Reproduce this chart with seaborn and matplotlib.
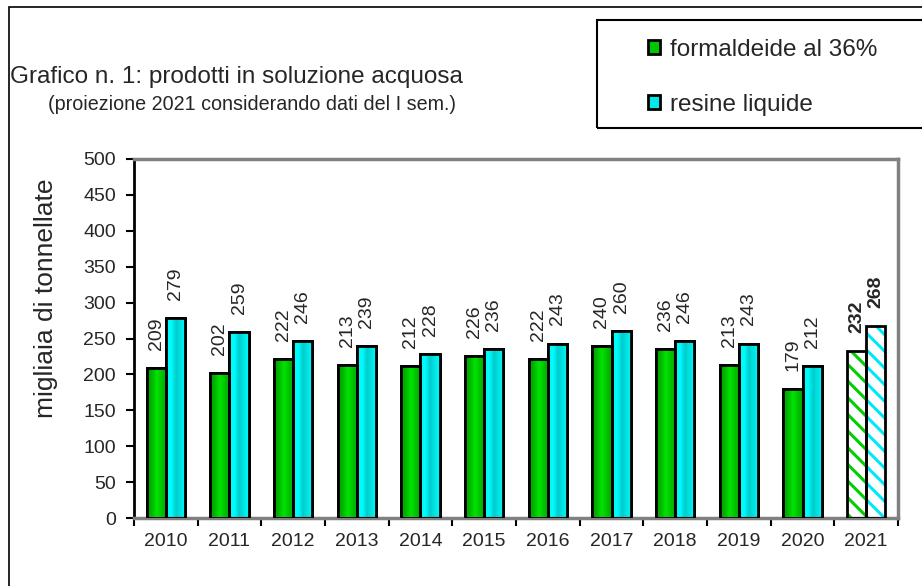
import numpy as np
import pandas as pd
import matplotlib
matplotlib.use("Agg")
import matplotlib.pyplot as plt
import seaborn as sns
from matplotlib.patches import Rectangle, Patch
from matplotlib.colors import LinearSegmentedColormap

# data
anni = ["2010", "2011", "2012", "2013", "2014", "2015",
        "2016", "2017", "2018", "2019", "2020", "2021"]
formaldeide = [209, 202, 222, 213, 212, 226, 222, 240, 236, 213, 179, 232]
resine = [279, 259, 246, 239, 228, 236, 243, 260, 246, 243, 212, 268]
serie = ["formaldeide al 36%", "resine liquide"]

sns.set_style("white")
plt.rcParams["font.family"] = ["Liberation Sans", "DejaVu Sans"]
plt.rcParams["hatch.linewidth"] = 2.2

df = pd.DataFrame({
    "anno": anni * 2,
    "valore": formaldeide + resine,
    "prodotto": [serie[0]] * len(anni) + [serie[1]] * len(anni),
})

colori = {serie[0]: "#00c800", serie[1]: "#00e8e8"}
tratteggio = {serie[0]: "#00d000", serie[1]: "#00e8f8"}
sfumature = {
    serie[0]: ["#009c00", "#00b800", "#00e400", "#00c400", "#00a400"],
    serie[1]: ["#00f4f4", "#00ffff", "#00cccc", "#00e4e4", "#00fafa"],
}

fig = plt.figure(figsize=(9.22, 5.86), dpi=100)
ax = fig.add_axes([0.1453, 0.116, 0.8287, 0.6127])

sns.barplot(data=df, x="anno", y="valore", hue="prodotto", palette=colori,
            width=0.6, edgecolor="black", linewidth=2, legend=False, ax=ax)

for cont, nome in zip(ax.containers, serie):
    cmap = LinearSegmentedColormap.from_list(nome, sfumature[nome])
    grad = np.linspace(0, 1, 64).reshape(1, -1)
    for i, p in enumerate(cont.patches):
        x0, w, h = p.get_x(), p.get_width(), p.get_height()
        if anni[i] == "2021":
            # projection: white hatched bar
            p.set_facecolor("white")
            p.set_edgecolor(tratteggio[nome])
            p.set_hatch("\\\\")
            p.set_linewidth(0)
        else:
            im = ax.imshow(grad, cmap=cmap, aspect="auto",
                           extent=[x0, x0 + w, 0, h], zorder=2.5)
            im.set_clip_path(p)
        ax.add_patch(Rectangle((x0, 0), w, h, fill=False, ec="black",
                               lw=2, zorder=3))
        ax.annotate(f"{h:.0f}", xy=(x0 + w / 2, h), xytext=(0, 13),
                    textcoords="offset points", rotation=90,
                    ha="center", va="bottom", fontsize=14,
                    fontweight="bold" if anni[i] == "2021" else "normal")

ax.set_xlim(-0.5, len(anni) - 0.5)
ax.set_ylim(0, 500)
ax.set_yticks(np.arange(0, 501, 50))
ax.set_xticks(range(len(anni)))
ax.set_xticklabels(anni)
ax.set_xticks(np.arange(-0.5, len(anni), 1), minor=True)
ax.tick_params(axis="x", which="major", length=0, pad=11, labelsize=14)
ax.tick_params(axis="x", which="minor", length=6, width=1.5,
               direction="out", color="black", bottom=True)
ax.tick_params(axis="y", length=6, width=1.5, direction="out",
               color="black", pad=7, labelsize=14, left=True)

ax.set_xlabel("")
ax.set_ylabel("migliaia di tonnellate", fontsize=19)
ax.yaxis.set_label_coords(-0.1, 0.613)

for lato in ["top", "right", "bottom"]:
    ax.spines[lato].set_color("#808080")
    ax.spines[lato].set_linewidth(2.5)
ax.spines["left"].set_color("black")
ax.spines["left"].set_linewidth(2)

fig.text(10 / 922, 1 - 77 / 586, "Grafico n. 1: prodotti in soluzione acquosa",
         fontsize=17.5, va="center", ha="left")
fig.text(48 / 922, 1 - 104 / 586,
         "(proiezione 2021 considerando dati del I sem.)",
         fontsize=14.2, va="center", ha="left")

# outer frame and legend box
fig.patches.append(Rectangle((9 / 922, -0.1), 1.2, 1.1 - 7 / 586,
                             transform=fig.transFigure, fill=False,
                             ec="black", lw=1.2))
fig.patches.append(Rectangle((597 / 922, 1 - 128 / 586), 0.5, 108 / 586,
                             transform=fig.transFigure, fill=False,
                             ec="black", lw=1.5))

maniglie = [Patch(facecolor=colori[s], edgecolor="black", linewidth=2)
            for s in serie]
fig.legend(maniglie, serie, loc="upper left",
           bbox_to_anchor=(648 / 922, 1 - 39 / 586), frameon=False,
           fontsize=17.5, handlelength=0.5, handleheight=0.5,
           handletextpad=0.4, labelspacing=1.35, borderpad=0,
           borderaxespad=0)

fig.savefig("out.png", dpi=100)
